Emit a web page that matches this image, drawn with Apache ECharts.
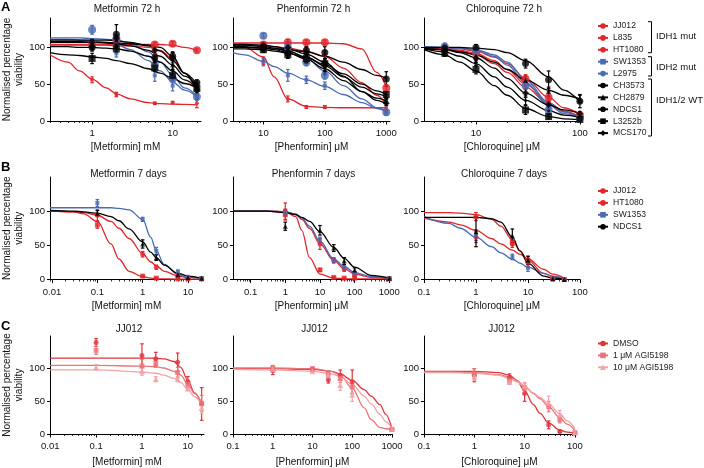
<!DOCTYPE html>
<html>
<head>
<meta charset="utf-8">
<script src="https://cdn.jsdelivr.net/npm/echarts@6/dist/echarts.min.js"></script>
<style>
  html, body { margin: 0; padding: 0; background: #fff; }
  #chart { width: 704px; height: 468px; }
</style>
</head>
<body>
<div id="chart"></div>
<script>
// ---------- data ----------
// row A: 72 h, ten cell lines
const linesA = ['JJ012', 'L835', 'HT1080', 'SW1353', 'L2975', 'CH3573', 'CH2879', 'NDCS1', 'L3252b', 'MCS170'];
// row B: 7 days
const linesB = ['JJ012', 'HT1080', 'SW1353', 'NDCS1'];
// row C: JJ012 with AGI5198
const linesC = ['DMSO', '1 μM AGI5198', '10 μM AGI5198'];

// A1 metformin 72 h
const metA_dose = [1, 2, 6, 10, 20];
const metA_fitX = [0.3, 0.5, 0.7, 1, 1.5, 2, 3, 5, 7, 10, 14, 20];
const metA_mean = [
  [56, 36, 24, 25, 24], [104, 110, 104, 105, 96], [102, 108, 92, 88, 42],
  [106, 92, 62, 48, 32], [124, 112, 76, 57, 33], [100, 118, 86, 88, 52],
  [104, 110, 82, 76, 48], [101, 104, 80, 70, 45], [85, 98, 72, 62, 44], [107, 112, 96, 86, 42]
];
const metA_sd = [
  [4, 3, 1.5, 1.5, 6], [3, 4, 3, 3, 2], [5, 6, 4, 5, 8],
  [5, 5, 8, 7, 4], [6, 4, 6, 5, 3], [5, 13, 5, 6, 4],
  [3, 5, 5, 6, 4], [3, 4, 4, 6, 4], [7, 5, 5, 6, 5], [4, 5, 5, 7, 5]
];
const metA_fit = [
  [90, 80, 68, 57, 45, 37, 30, 25, 23.5, 23, 22.5, 22],
  [104, 104, 104, 104, 104, 104, 104, 104, 104, 103, 100, 96],
  [103, 103, 103, 103, 103, 102, 102, 100, 96, 85, 65, 40],
  [111, 111, 110, 109, 107, 104, 97, 82, 68, 53, 42, 33],
  [113, 113, 113, 112, 111, 110, 106, 94, 80, 62, 45, 34],
  [110, 110, 110, 110, 110, 109, 107, 102, 95, 82, 65, 50],
  [108, 108, 108, 107, 106, 105, 102, 96, 88, 76, 61, 48],
  [101, 101, 100, 100, 99, 98, 95, 88, 80, 68, 56, 45],
  [93, 90, 89, 87, 85, 82, 78, 71, 65, 58, 51, 45],
  [107, 107, 107, 107, 107, 106, 105, 103, 100, 88, 65, 42]
];

// A2 phenformin 72 h
const phenA_dose = [10, 25, 50, 100, 1000];
const phenA_fitX = [3.2, 5, 10, 15, 25, 50, 100, 200, 400, 700, 1000];
const phenA_mean = [
  [82, 30, 19, 19, 14], [104, 107, 107, 107, 45], [100, 103, 97, 90, 16],
  [80, 62, 56, 48, 10], [116, 100, 80, 62, 12], [101, 92, 96, 93, 57],
  [99, 97, 82, 70, 33], [98, 95, 88, 68, 27], [97, 90, 85, 78, 36], [103, 100, 92, 80, 24]
];
const phenA_sd = [
  [5, 4, 2, 2, 2], [3, 4, 3, 3, 4], [4, 5, 4, 5, 3],
  [5, 8, 5, 5, 2], [3, 4, 5, 5, 2], [4, 6, 5, 8, 10],
  [3, 4, 4, 5, 3], [3, 4, 4, 5, 3], [4, 5, 5, 6, 4], [3, 4, 5, 5, 3]
];
const phenA_fit = [
  [101, 100, 87, 60, 30, 20, 18.5, 18, 18, 18, 18],
  [106, 106, 106, 106, 106, 106, 106, 105, 98, 66, 46],
  [103, 103, 102, 101, 99, 95, 88, 72, 52, 35, 22],
  [93, 90, 81, 74, 65, 56, 47, 36, 25, 17, 13],
  [104, 104, 103, 101, 96, 85, 68, 48, 30, 18, 13],
  [100, 100, 99, 98, 97, 94, 88, 80, 70, 62, 58],
  [103, 103, 101, 99, 95, 87, 75, 60, 46, 37, 33],
  [101, 101, 99, 97, 93, 84, 71, 55, 40, 31, 27],
  [98, 98, 97, 95, 92, 86, 77, 64, 50, 41, 36],
  [104, 104, 103, 101, 98, 91, 80, 61, 40, 28, 23]
];

// A3 chloroquine 72 h
const chloA_dose = [5, 10, 30, 50, 100];
const chloA_fitX = [3.16, 5, 7, 10, 15, 20, 30, 50, 70, 100];
const chloA_mean = [
  [97, 88, 45, 25, 5], [98, 92, 57, 32, 8], [100, 90, 50, 28, 5],
  [100, 96, 52, 18, 5], [101, 95, 48, 15, 4], [99, 100, 78, 56, 27],
  [97, 88, 55, 40, 30], [93, 80, 28, 14, 6], [92, 70, 15, 6, 2], [96, 85, 38, 22, 10]
];
const chloA_sd = [
  [5, 5, 8, 6, 2], [6, 7, 6, 8, 2], [4, 5, 6, 5, 2],
  [4, 4, 5, 4, 2], [5, 5, 5, 4, 2], [5, 4, 6, 12, 9],
  [4, 5, 6, 6, 5], [4, 5, 6, 4, 2], [4, 6, 6, 3, 2], [4, 5, 6, 5, 3]
];
const chloA_fit = [
  [99, 98, 95, 90, 78, 66, 46, 23, 13, 6],
  [100, 99, 98, 95, 87, 78, 58, 32, 18, 9],
  [99, 98, 96, 92, 82, 70, 50, 25, 13, 5],
  [101, 100, 99, 97, 90, 80, 56, 25, 12, 5],
  [100, 100, 99, 96, 88, 76, 52, 22, 10, 4],
  [100, 100, 100, 99, 97, 93, 82, 60, 42, 26],
  [98, 97, 94, 90, 80, 70, 56, 42, 35, 30],
  [98, 94, 88, 78, 60, 46, 28, 14, 8, 5],
  [97, 90, 80, 68, 48, 35, 17, 6, 3, 2],
  [99, 97, 93, 86, 72, 58, 38, 22, 15, 10]
];

// B1 metformin 7 days
const metB_dose = [0.1, 1, 2, 6, 10, 20];
const metB_fitX = [0.009, 0.03, 0.05, 0.1, 0.2, 0.3, 0.5, 1, 1.5, 2, 3, 6, 10, 20];
const metB_mean = [[80, 5, 2, 1, 1, 1], [94, 37, 18, 5, 2, 1], [112, 88, 42, 11, 4, 2], [97, 52, 32, 7, 3, 2]];
const metB_sd = [[5, 1, 1, 0.5, 0.5, 0.5], [8, 4, 3, 1, 1, 1], [5, 3, 5, 3, 1, 1], [4, 6, 4, 2, 1, 1]];
const metB_fit = [
  [100, 99, 96, 85, 52, 30, 12, 4, 2, 1, 1, 0.5, 0.5, 0.5],
  [100, 99, 98, 94, 85, 75, 60, 38, 26, 20, 12, 5, 3, 2],
  [105, 105, 105, 105, 105, 104, 102, 88, 62, 42, 22, 7, 3, 2],
  [101, 100, 99, 97, 92, 86, 74, 55, 40, 32, 21, 9, 5, 2]
];

// B2 phenformin 7 days
const phenB_dose = [1, 10, 25, 50, 100, 1000];
const phenB_fitX = [0.031, 0.3, 1, 2, 3, 5, 10, 25, 50, 100, 300, 1000];
const phenB_mean = [[95, 14, 3, 2, 2, 1], [100, 52, 28, 15, 7, 1], [98, 58, 28, 18, 8, 2], [78, 72, 46, 27, 14, 2]];
const phenB_sd = [[8, 2, 1, 1, 1, 1], [12, 8, 4, 3, 2, 1], [4, 4, 3, 3, 2, 1], [6, 7, 5, 5, 3, 1]];
const phenB_fit = [
  [100, 100, 99, 92, 72, 32, 8, 2, 1, 1, 1, 1],
  [100, 100, 99, 95, 88, 75, 52, 28, 16, 8, 3, 1],
  [100, 100, 99, 96, 90, 78, 56, 30, 19, 10, 4, 2],
  [100, 100, 98, 95, 91, 85, 70, 47, 31, 18, 6, 2]
];

// B3 chloroquine 7 days
const chloB_dose = [1, 5, 10, 30, 50];
const chloB_fitX = [0.1, 0.3, 0.5, 1, 2, 3, 5, 7, 10, 20, 30, 50];
const chloB_mean = [[92, 55, 28, 1, 0], [62, 52, 25, 1, 0], [65, 33, 17, 1, 0], [70, 64, 28, 1, 0]];
const chloB_sd = [[6, 5, 6, 0.5, 0.5], [8, 5, 6, 0.5, 0.5], [8, 4, 5, 0.5, 0.5], [22, 10, 6, 0.5, 0.5]];
const chloB_fit = [
  [98, 98, 97, 95, 88, 78, 58, 42, 28, 9, 4, 1],
  [90, 84, 80, 72, 60, 52, 43, 37, 30, 15, 8, 2],
  [92, 82, 75, 62, 48, 39, 30, 24, 18, 9, 5, 1],
  [91, 91, 91, 91, 89, 84, 62, 42, 24, 5, 2, 0.5]
];

// C1 metformin, JJ012 + AGI5198
const metC_dose = [0.1, 1, 2, 6, 10, 20];
const metC_fitX = [0.01, 0.1, 1, 2, 3, 5, 7, 10, 14, 20];
const metC_mean = [[140, 120, 115, 110, 80, 46], [128, 104, 108, 94, 76, 47], [102, 96, 84, 84, 70, 40]];
const metC_sd = [[6, 18, 10, 14, 8, 25], [6, 10, 6, 8, 6, 12], [4, 6, 4, 4, 4, 8]];
const metC_fit = [
  [116, 116, 116, 116, 115, 111, 102, 82, 63, 45],
  [105, 105, 104, 103, 101, 96, 90, 76, 62, 48],
  [98, 98, 95, 93, 90, 85, 79, 68, 57, 45]
];

// C2 phenformin, JJ012 + AGI5198
const phenC_dose = [1, 10, 25, 50, 100, 1000];
const phenC_fitX = [0.1, 1, 10, 30, 50, 100, 200, 300, 500, 700, 1000];
const phenC_mean = [[97, 99, 83, 90, 80, 7], [101, 100, 93, 85, 72, 7], [99, 96, 90, 75, 60, 8]];
const phenC_sd = [[6, 2, 5, 8, 18, 2], [4, 2, 4, 6, 10, 2], [3, 2, 4, 8, 10, 2]];
const phenC_fit = [
  [100, 100, 99, 96, 92, 82, 68, 58, 45, 30, 8],
  [101, 101, 100, 96, 90, 70, 40, 22, 10, 8, 7],
  [99, 98, 96, 92, 88, 76, 58, 46, 30, 19, 8]
];

// C3 chloroquine, JJ012 + AGI5198
const chloC_dose = [1, 5, 10, 30, 50, 100];
const chloC_fitX = [0.1, 0.3, 1, 3, 5, 7, 10, 15, 20, 30, 50, 70, 100];
const chloC_mean = [[90, 86, 62, 14, 4, 1], [92, 82, 70, 42, 22, 2], [88, 80, 74, 48, 30, 3]];
const chloC_sd = [[10, 6, 12, 6, 2, 1], [8, 5, 8, 8, 5, 1], [6, 4, 5, 10, 6, 1]];
const chloC_fit = [
  [96, 96, 96, 94, 90, 82, 66, 45, 32, 17, 6, 3, 1],
  [95, 95, 94, 91, 87, 82, 73, 62, 54, 42, 25, 15, 5],
  [94, 94, 93, 90, 85, 80, 72, 63, 56, 46, 31, 20, 8]
];

// tick labels
const yTicks = [0, 50, 100];
const majorTicks = [
  [1, 10], [10, 100, 1000], [10, 100],
  [0.01, 0.1, 1, 10], [0.1, 1, 10, 100, 1000], [0.1, 1, 10, 100],
  [0.01, 0.1, 1, 10], [0.1, 1, 10, 100, 1000], [0.1, 1, 10, 100]
];
const titles = [
  'Metformin 72 h', 'Phenformin 72 h', 'Chloroquine 72 h',
  'Metformin 7 days', 'Phenformin 7 days', 'Chloroquine 7 days',
  'JJ012', 'JJ012', 'JJ012'
];
const xNames = ['[Metformin] mM', '[Phenformin] μM', '[Chloroquine] μM'];

// ---------- styles / layout ----------
const FONT = 'Liberation Sans, Arial, sans-serif';
const red = '#e1262c', blue = '#4a6ab2', black = '#000000';
const styleRows = [
  { color: [red, red, red, blue, blue, black, black, black, black, black],
    sym: ['circle', 'circle', 'circle', 'rect', 'circle', 'circle', 'triangle', 'circle', 'rect', 'diamond'],
    size: [4, 8, 4, 4, 8, 7, 5, 3, 7, 7] },
  { color: [red, red, blue, black], sym: ['rect', 'circle', 'rect', 'triangle'], size: [5, 5, 4, 5] },
  { color: ['#e2333b', '#ec7379', '#f3a3a7'], sym: ['circle', 'rect', 'triangle'], size: [5, 5, 6] }
];
const rowMax = [140, 150, 150];
// [left, top, width, height, xmin, xmax]
const boxes = [
  [49, 18, 152, 103, 0.3, 22.5], [233, 18, 157, 103, 3.2, 1150], [424, 18, 156, 103, 3.16, 100.3],
  [50, 177, 153, 102.5, 0.009, 21.5], [233, 177, 157, 102.5, 0.031, 1050], [424, 177, 156, 102.5, 0.0999, 100.3],
  [50, 336, 154, 102, 0.0099, 22.5], [233, 336, 159, 102, 0.0999, 1003], [424, 336, 151, 102, 0.0999, 100.3]
];
const titleY = [9.5, 174.5, 329.5];

const panels = [
  [metA_dose, metA_fitX, metA_mean, metA_sd, metA_fit, linesA],
  [phenA_dose, phenA_fitX, phenA_mean, phenA_sd, phenA_fit, linesA],
  [chloA_dose, chloA_fitX, chloA_mean, chloA_sd, chloA_fit, linesA],
  [metB_dose, metB_fitX, metB_mean, metB_sd, metB_fit, linesB],
  [phenB_dose, phenB_fitX, phenB_mean, phenB_sd, phenB_fit, linesB],
  [chloB_dose, chloB_fitX, chloB_mean, chloB_sd, chloB_fit, linesB],
  [metC_dose, metC_fitX, metC_mean, metC_sd, metC_fit, linesC],
  [phenC_dose, phenC_fitX, phenC_mean, phenC_sd, phenC_fit, linesC],
  [chloC_dose, chloC_fitX, chloC_mean, chloC_sd, chloC_fit, linesC]
];

function minorTicks(lo, hi) {
  const out = [];
  [0.001, 0.01, 0.1, 1, 10, 100].forEach(d => {
    [2, 3, 4, 5, 6, 7, 8, 9].forEach(m => {
      const v = +(d * m).toPrecision(3);
      if (v >= lo && v <= hi) out.push(v);
    });
  });
  return out;
}

function errRender(color) {
  return function (params, api) {
    const hi = api.coord([api.value(0), api.value(2)]);
    const lo = api.coord([api.value(0), api.value(1)]);
    const c = 1.8;
    const st = { stroke: color, lineWidth: 1.2 };
    return {
      type: 'group',
      children: [
        { type: 'line', shape: { x1: hi[0], y1: hi[1], x2: lo[0], y2: lo[1] }, style: st },
        { type: 'line', shape: { x1: hi[0] - c, y1: hi[1], x2: hi[0] + c, y2: hi[1] }, style: st },
        { type: 'line', shape: { x1: lo[0] - c, y1: lo[1], x2: lo[0] + c, y2: lo[1] }, style: st }
      ]
    };
  };
}

const grids = [], xAxes = [], minorAxes = [], yAxes = [], series = [];
const fmt = v => String(parseFloat(Number(v).toPrecision(4)));

boxes.forEach((b, i) => {
  const row = Math.floor(i / 3), col = i % 3;
  grids.push({ left: b[0], top: b[1], width: b[2], height: b[3] });
  xAxes.push({
    type: 'log', logBase: 10, gridIndex: i, min: b[4], max: b[5], position: 'bottom',
    name: xNames[col], nameLocation: 'middle', nameGap: [21.5, 21.5, 23][row],
    nameTextStyle: { fontFamily: FONT, fontSize: 10, color: '#111' },
    axisLine: { show: true, lineStyle: { color: '#000', width: 1 } },
    axisTick: { show: true, length: 3.5, customValues: majorTicks[i], lineStyle: { color: '#000', width: 1 } },
    axisLabel: { customValues: majorTicks[i], formatter: fmt, fontFamily: FONT, fontSize: 9.5, color: '#111', margin: 7.5 },
    splitLine: { show: false }
  });
  minorAxes.push({
    type: 'log', logBase: 10, gridIndex: i, min: b[4], max: b[5], position: 'bottom',
    axisLine: { show: false },
    axisTick: { show: true, length: 2, customValues: minorTicks(b[4], b[5]), lineStyle: { color: '#000', width: 0.8 } },
    axisLabel: { show: false },
    splitLine: { show: false }
  });
  yAxes.push({
    type: 'value', gridIndex: i, min: 0, max: rowMax[row],
    name: col === 0 ? 'Normalised percentage\nviability' : '',
    nameLocation: 'middle', nameGap: 25, nameRotate: 90,
    nameTextStyle: { fontFamily: FONT, fontSize: 10, color: '#111', lineHeight: 12 },
    axisLine: { show: true, lineStyle: { color: '#000', width: 1 } },
    axisTick: { show: true, length: 3, customValues: yTicks, lineStyle: { color: '#000', width: 1 } },
    axisLabel: { customValues: yTicks, fontFamily: FONT, fontSize: 9.5, color: '#111', margin: 5 },
    splitLine: { show: false }
  });

  const [dose, fitX, mean, sd, fit, lines] = panels[i];
  const st = styleRows[row];
  // fitted curves first
  lines.forEach((name, k) => {
    series.push({
      type: 'line', name: name, xAxisIndex: i, yAxisIndex: i, silent: true, z: 2,
      data: fitX.map((x, j) => [x, fit[k][j]]),
      smooth: 0.35, smoothMonotone: 'x', showSymbol: false,
      symbol: st.sym[k], symbolSize: st.size[k],
      lineStyle: { color: st.color[k], width: 1.3 }, itemStyle: { color: st.color[k] }
    });
  });
  // error bars then means
  lines.forEach((name, k) => {
    series.push({
      type: 'custom', xAxisIndex: i, yAxisIndex: i, silent: true, z: 3, clip: false,
      data: dose.map((d, j) => [d, Math.max(0, mean[k][j] - sd[k][j]), mean[k][j] + sd[k][j]]),
      encode: { x: 0, y: [1, 2] },
      renderItem: errRender(st.color[k])
    });
    series.push({
      type: 'scatter', xAxisIndex: i, yAxisIndex: i, silent: true, z: 4, clip: false,
      data: dose.map((d, j) => [d, mean[k][j]]),
      symbol: st.sym[k], symbolSize: st.size[k], itemStyle: { color: st.color[k] }
    });
  });
});

const legendBase = {
  orient: 'vertical', left: 592, itemWidth: 10, itemHeight: 7, itemGap: 0.9, selectedMode: false,
  textStyle: { fontFamily: FONT, fontSize: 8.6, color: '#222', lineHeight: 11 }
};

const graphic = [];
['A', 'B', 'C'].forEach((t, r) => {
  graphic.push({ type: 'text', x: 1, y: [1, 161, 320][r],
    style: { text: t, font: 'bold 13px ' + FONT, fill: '#000' } });
});
titles.forEach((t, i) => {
  const b = boxes[i];
  graphic.push({ type: 'text', x: b[0] + b[2] / 2 + 2, y: titleY[Math.floor(i / 3)],
    style: { text: t, font: '10px ' + FONT, fill: '#111', align: 'center', verticalAlign: 'middle' } });
});
// brackets grouping the 72 h cell lines
[[21.7, 52.7, 36.7, 'IDH1 mut'], [56.7, 76, 67.7, 'IDH2 mut'], [79, 136, 100, 'IDH1/2 WT']].forEach(g => {
  graphic.push({ type: 'polyline', shape: { points: [[648, g[0]], [651.5, g[0]], [651.5, g[1]], [648, g[1]]] },
    style: { stroke: '#000', lineWidth: 1, fill: 'none' } });
  graphic.push({ type: 'text', x: 656, y: g[2],
    style: { text: g[3], font: '9.5px ' + FONT, fill: '#111', verticalAlign: 'middle' } });
});

const chart = echarts.init(document.getElementById('chart'), null, { renderer: 'canvas' });
chart.setOption({
  animation: false,
  backgroundColor: '#fff',
  grid: grids,
  xAxis: xAxes.concat(minorAxes),
  yAxis: yAxes,
  legend: [
    Object.assign({}, legendBase, { top: 15.5, data: linesA }),
    Object.assign({}, legendBase, { top: 180.5, data: linesB }),
    Object.assign({}, legendBase, { top: 333, data: linesC })
  ],
  graphic: graphic,
  series: series
});
</script>
</body>
</html>
